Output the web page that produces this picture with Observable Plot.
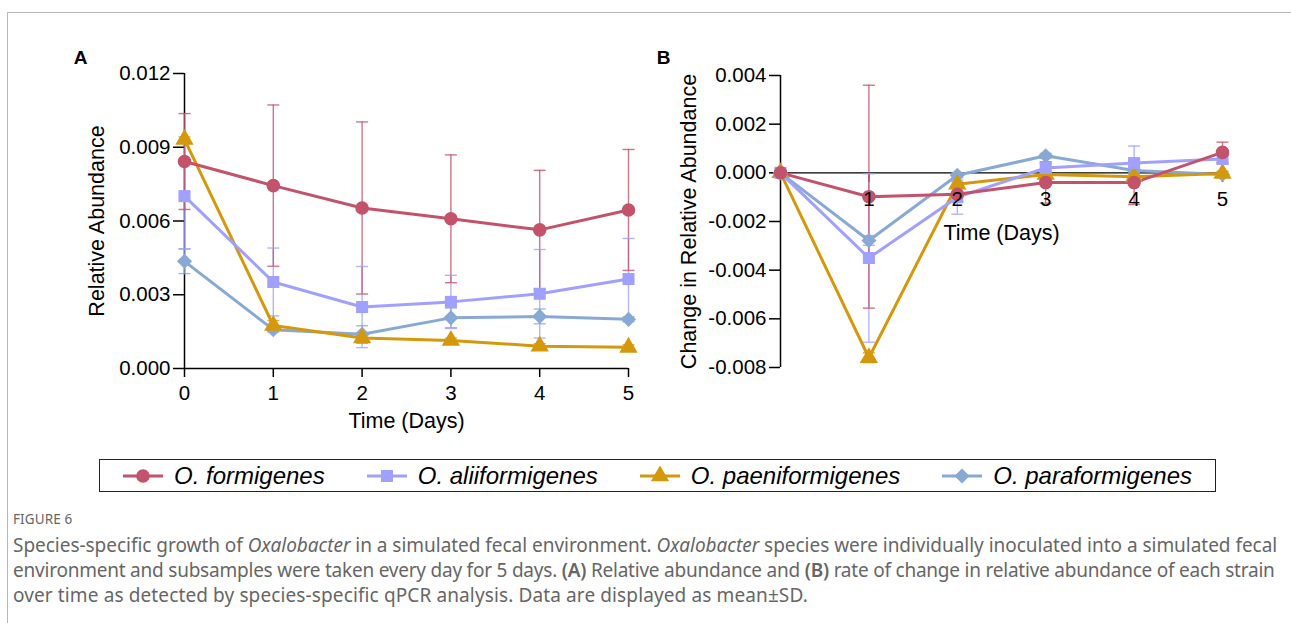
<!DOCTYPE html>
<html>
<head>
<meta charset="utf-8">
<script src="https://cdn.jsdelivr.net/npm/d3@7"></script>
<script src="https://cdn.jsdelivr.net/npm/@observablehq/plot@0.6"></script>
<style>
  html, body { margin: 0; padding: 0; background: #fff; }
  body { width: 1291px; height: 623px; position: relative; overflow: hidden; font-family: "Liberation Sans", Arial, sans-serif; }
  .frame { position: absolute; left: 7px; top: 12px; width: 1300px; height: 700px; border-left: 1.5px solid #b8b8b8; border-top: 1.5px solid #b8b8b8; }
  .panel { position: absolute; top: 0; }
  .legend { position: absolute; left: 99px; top: 459px; width: 1115px; height: 31px; border: 1.5px solid #222; display: flex; align-items: center; justify-content: center; gap: 42px; }
  .item { display: flex; align-items: center; }
  .item svg { margin-right: 11px; }
  .item span { font-style: italic; font-size: 24px; color: #000; }
  .fig { position: absolute; left: 13px; top: 510px; font-family: "Noto Sans", sans-serif; font-size: 13.5px; color: #666; letter-spacing: 0.1px; }
  .cap { position: absolute; left: 13px; top: 533px; font-family: "Noto Sans", sans-serif; font-size: 19px; line-height: 25px; color: #666; white-space: nowrap; }
  .cap b { font-weight: 600; }
  .l1 { letter-spacing: -0.03px; }
  .l2 { letter-spacing: -0.22px; }
  .l3 { letter-spacing: 0.12px; }
</style>
</head>
<body>
<div class="frame"></div>
<div class="panel" id="pa" style="left:0px"></div>
<div class="panel" id="pb" style="left:650px"></div>
<div class="legend" id="legend"></div>
<div class="fig">FIGURE 6</div>
<div class="cap"><span class="l1">Species-specific growth of <i>Oxalobacter</i> in a simulated fecal environment. <i>Oxalobacter</i> species were individually inoculated into a simulated fecal</span><br><span class="l2">environment and subsamples were taken every day for 5 days. <b>(A)</b> Relative abundance and <b>(B)</b> rate of change in relative abundance of each strain</span><br><span class="l3">over time as detected by species-specific qPCR analysis. Data are displayed as mean±SD.</span></div>
<script>
// ---------- data ----------
const days = [0, 1, 2, 3, 4, 5];
const seriesNames = ["O. formigenes", "O. aliiformigenes", "O. paeniformigenes", "O. paraformigenes"];
const seriesColors = ["#C3526B", "#A0A0FF", "#D4980C", "#89A9D5"];
const seriesSymbols = ["circle", "square", "triangle", "diamond2"];

// Panel A: relative abundance (mean, SD)
const formA = [0.00842, 0.00744, 0.00653, 0.00609, 0.00564, 0.00645];
const formASd = [0.00195, 0.00328, 0.00350, 0.00260, 0.00242, 0.00246];
const aliiA = [0.00701, 0.00352, 0.00250, 0.00271, 0.00304, 0.00364];
const aliiASd = [0.00214, 0.00138, 0.00165, 0.00108, 0.00180, 0.00165];
const paeniA = [0.00932, 0.00175, 0.00124, 0.00114, 0.00091, 0.00086];
const paeniASd = [0.00010, 0.00020, 0.00020, 0.00010, 0.00010, 0.00010];
const paraA = [0.00436, 0.00158, 0.00139, 0.00206, 0.00212, 0.00200];
const paraASd = [0.00050, 0.00010, 0.00035, 0.00040, 0.00030, 0.00010];

// Panel B: change in relative abundance (mean, SD)
const formB = [0, -0.00098, -0.00088, -0.00040, -0.00040, 0.00084];
const formBSd = [0, 0.00458, 0.00030, 0.00085, 0.00090, 0.00042];
const aliiB = [0, -0.00350, -0.00100, 0.00020, 0.00040, 0.00057];
const aliiBSd = [0, 0.00346, 0.00070, 0.00020, 0.00070, 0.00020];
const paeniB = [0, -0.00760, -0.00047, -0.00007, -0.00016, -0.00003];
const paeniBSd = [0, 0.00020, 0.00010, 0.00010, 0.00010, 0.00010];
const paraB = [0, -0.00278, -0.00010, 0.00070, 0.00010, -0.00007];
const paraBSd = [0, 0.00020, 0.00010, 0.00010, 0.00010, 0.00010];

const yTicksA = [0, 0.003, 0.006, 0.009, 0.012];
const yTicksB = [-0.008, -0.006, -0.004, -0.002, 0, 0.002, 0.004];
const xTicksB = [1, 2, 3, 4, 5];

// ---------- build tables ----------
function rows(list) {
  const out = [];
  list.forEach(([name, m, s]) => days.forEach((d, i) => out.push({day: d, series: name, mean: m[i], sd: s[i]})));
  return out;
}
const rowsA = rows([[seriesNames[0], formA, formASd], [seriesNames[1], aliiA, aliiASd], [seriesNames[2], paeniA, paeniASd], [seriesNames[3], paraA, paraASd]]);
const rowsB = rows([[seriesNames[0], formB, formBSd], [seriesNames[1], aliiB, aliiBSd], [seriesNames[2], paeniB, paeniBSd], [seriesNames[3], paraB, paraBSd]]);

const capSymbol = { draw(ctx) { ctx.moveTo(-6, 0); ctx.lineTo(6, 0); } };
const tickDown = { draw(ctx) { ctx.moveTo(0, 0); ctx.lineTo(0, 9); } };
const fmt = (v) => d3.format(".3f")(v).replace("\u2212", "-");
const font = '"Liberation Sans", Arial, sans-serif';

function caps(data) {
  const out = [];
  data.filter(d => d.sd > 0).forEach(d => { out.push({day: d.day, series: d.series, v: d.mean + d.sd}); out.push({day: d.day, series: d.series, v: d.mean - d.sd}); });
  return out;
}
const drawOrder = [seriesNames[3], seriesNames[2], seriesNames[1], seriesNames[0]];
const sortRows = (data) => data.slice().sort((a, b) => drawOrder.indexOf(a.series) - drawOrder.indexOf(b.series));

function seriesMarks(data) {
  const sorted = sortRows(data);
  return [
    Plot.ruleX(sorted.filter(d => d.sd > 0), {x: "day", y1: d => d.mean - d.sd, y2: d => d.mean + d.sd, stroke: "series", strokeWidth: 1.4, strokeOpacity: 0.8}),
    Plot.dot(caps(sorted), {x: "day", y: "v", stroke: "series", symbol: capSymbol, fill: "none", strokeWidth: 1.4, strokeOpacity: 0.8}),
    ...drawOrder.map(name => Plot.line(data.filter(d => d.series === name), {x: "day", y: "mean", stroke: "series", strokeWidth: 3})),
    Plot.dot(sorted, {x: "day", y: "mean", fill: "series", symbol: "series", r: 6.8, stroke: "none"})
  ];
}

const common = {
  color: {domain: seriesNames, range: seriesColors},
  symbol: {domain: seriesNames, range: seriesSymbols},
  style: {fontFamily: font, fontSize: "20.5px", color: "#000", background: "transparent", overflow: "visible"}
};

// ---------- Panel A ----------
const plotA = Plot.plot({
  ...common,
  width: 650, height: 445,
  marginLeft: 184, marginRight: 22, marginTop: 73, marginBottom: 77,
  x: {domain: [0, 5]},
  y: {domain: [0, 0.012]},
  marks: [
    Plot.axisY({ticks: yTicksA, tickFormat: fmt, tickSize: 11, tickPadding: 3, strokeWidth: 1.5, label: null}),
    Plot.axisX({ticks: days, tickFormat: d3.format("d"), tickSize: 9, tickPadding: 8, strokeWidth: 1.5, label: null}),
    Plot.ruleX([0], {strokeWidth: 1.5}),
    Plot.ruleY([0], {strokeWidth: 1.5}),
    ...seriesMarks(rowsA),
    Plot.text(["Relative Abundance"], {frameAnchor: "left", rotate: -90, dx: -87, fontSize: 21.5, textAnchor: "middle"}),
    Plot.text(["Time (Days)"], {frameAnchor: "bottom", dy: 59, fontSize: 21.5}),
    Plot.text(["A"], {frameAnchor: "top-left", dx: -104, dy: -15.5, fontSize: 19, fontWeight: "bold", textAnchor: "middle", lineAnchor: "middle"})
  ]
});
document.getElementById("pa").appendChild(plotA);

// ---------- Panel B ----------
const plotB = Plot.plot({
  ...common,
  width: 641, height: 445,
  marginLeft: 130, marginRight: 69, marginTop: 75, marginBottom: 78,
  x: {domain: [0, 5], axis: null},
  y: {domain: [-0.008, 0.004]},
  marks: [
    Plot.axisY({ticks: yTicksB, tickFormat: fmt, tickSize: 11, tickPadding: 3, strokeWidth: 1.5, label: null}),
    Plot.ruleX([0], {strokeWidth: 1.5}),
    Plot.ruleY([0], {strokeWidth: 1.3}),
    Plot.dot(xTicksB, {x: d => d, y: () => 0, symbol: tickDown, stroke: "#000", fill: "none", strokeWidth: 1.5}),
    ...seriesMarks(rowsB),
    Plot.text(xTicksB, {x: d => d, y: () => 0, text: d => String(d), dy: 27, fontSize: 20.5, lineAnchor: "middle"}),
    Plot.text(["Change in Relative Abundance"], {frameAnchor: "left", rotate: -90, dx: -91, fontSize: 21.5, textAnchor: "middle"}),
    Plot.text(["Time (Days)"], {frameAnchor: "top", dy: 158, fontSize: 21.5, lineAnchor: "middle"}),
    Plot.text(["B"], {frameAnchor: "top-left", dx: -117, dy: -18, fontSize: 19, fontWeight: "bold", textAnchor: "middle", lineAnchor: "middle"})
  ]
});
document.getElementById("pb").appendChild(plotB);

// ---------- Legend ----------
const legend = d3.select("#legend");
seriesNames.forEach((name, i) => {
  const item = legend.append("div").attr("class", "item");
  const svg = item.append("svg").attr("width", 40).attr("height", 20);
  svg.append("line").attr("x1", 0).attr("x2", 40).attr("y1", 10).attr("y2", 10).attr("stroke", seriesColors[i]).attr("stroke-width", 3);
  const sym = {circle: d3.symbolCircle, square: d3.symbolSquare, triangle: d3.symbolTriangle, diamond2: d3.symbolDiamond2}[seriesSymbols[i]];
  svg.append("path").attr("transform", "translate(20,10)").attr("d", d3.symbol(sym, Math.PI * 6.8 * 6.8)()).attr("fill", seriesColors[i]);
  item.append("span").text(name);
});
</script>
</body>
</html>
